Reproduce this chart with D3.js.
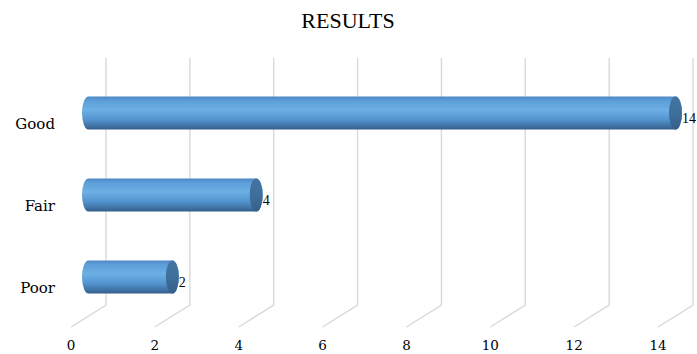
<!DOCTYPE html>
<html>
<head>
<meta charset="utf-8">
<script src="https://cdn.jsdelivr.net/npm/d3@7"></script>
<style>
  html, body { margin: 0; padding: 0; background: #fff; }
  svg { display: block; }
</style>
</head>
<body>
<svg id="chart" width="697" height="354"></svg>
<script>
const title = "RESULTS";
const categories = ["Good", "Fair", "Poor"];
const values = [14, 4, 2];
const tickValues = [0, 2, 4, 6, 8, 10, 12, 14];

const titleFont = "'Liberation Serif', 'Times New Roman', serif";
const labelFont = "'DejaVu Serif', 'Liberation Serif', serif";

const svg = d3.select("#chart");

// 3D projection: front plane and back plane offset
const depthDX = 35, depthDY = -22;
const x = d3.scaleLinear().domain([0, 14]).range([71, 658]);
const y = d3.scaleBand().domain(categories).range([83, 329]).paddingInner(0).paddingOuter(0);
const floorY = 327;
const topY = 58;

// gradients
const defs = svg.append("defs");
const g1 = defs.append("linearGradient").attr("id", "barGrad")
  .attr("x1", 0).attr("y1", 0).attr("x2", 0).attr("y2", 1);
[[0, "#4d88c6"], [0.12, "#5c9dd8"], [0.4, "#6cb0e4"], [0.7, "#5393cf"], [0.9, "#3f71a3"], [1, "#335d88"]]
  .forEach(([o, c]) => g1.append("stop").attr("offset", o).attr("stop-color", c));
const g2 = defs.append("linearGradient").attr("id", "capGrad")
  .attr("x1", 0).attr("y1", 0).attr("x2", 0).attr("y2", 1);
[[0, "#44739f"], [0.5, "#3f6f9c"], [1, "#365f88"]]
  .forEach(([o, c]) => g2.append("stop").attr("offset", o).attr("stop-color", c));

// title
svg.append("text").attr("x", 348).attr("y", 28).attr("text-anchor", "middle")
  .attr("font-family", titleFont)
  .attr("font-size", 22).attr("fill", "#000").text(title);

// gridlines (back wall verticals + floor diagonals)
const grid = svg.append("g").attr("stroke", "#d9d9d9").attr("stroke-width", 1.4).attr("fill", "none");
grid.selectAll("path").data(tickValues).join("path")
  .attr("d", d => {
    const fx = x(d), bx = fx + depthDX, by = floorY + depthDY;
    return `M${bx},${topY}L${bx},${by}L${fx},${floorY}`;
  });

// tick labels
svg.append("g").selectAll("text").data(tickValues).join("text")
  .attr("x", d => x(d)).attr("y", 350).attr("text-anchor", "middle")
  .attr("font-family", labelFont)
  .attr("font-size", 13.5).attr("fill", "#000").text(d => d);

// category labels
svg.append("g").selectAll("text").data(categories).join("text")
  .attr("x", 55).attr("y", d => y(d) + y.bandwidth() / 2 + 5)
  .attr("font-family", labelFont)
  .attr("text-anchor", "end").attr("font-size", 15).attr("fill", "#000").text(d => d);

// bars (cylinders) at half depth
const barH = 33, rx = 6.5, ry = barH / 2;
const bars = svg.append("g").selectAll("g").data(categories.map((c, i) => ({ c, v: values[i] }))).join("g");
const cx = v => x(v) + depthDX / 2;
const cy = c => y(c) + y.bandwidth() / 2 + depthDY / 2;
bars.append("path")
  .attr("fill", "url(#barGrad)")
  .attr("d", d => {
    const x0 = cx(0), x1 = cx(d.v), yc = cy(d.c);
    return `M${x0},${yc - ry}L${x1},${yc - ry}A${rx},${ry} 0 0 1 ${x1},${yc + ry}L${x0},${yc + ry}A${rx},${ry} 0 0 1 ${x0},${yc - ry}Z`;
  });
bars.append("ellipse")
  .attr("cx", d => cx(d.v)).attr("cy", d => cy(d.c))
  .attr("rx", rx).attr("ry", ry).attr("fill", "url(#capGrad)");

// value labels
bars.append("text")
  .attr("x", d => cx(d.v) + rx).attr("y", d => cy(d.c) + 9.5)
  .attr("font-family", titleFont)
  .attr("font-size", 14).attr("fill", "#000").text(d => d.v);
</script>
</body>
</html>
